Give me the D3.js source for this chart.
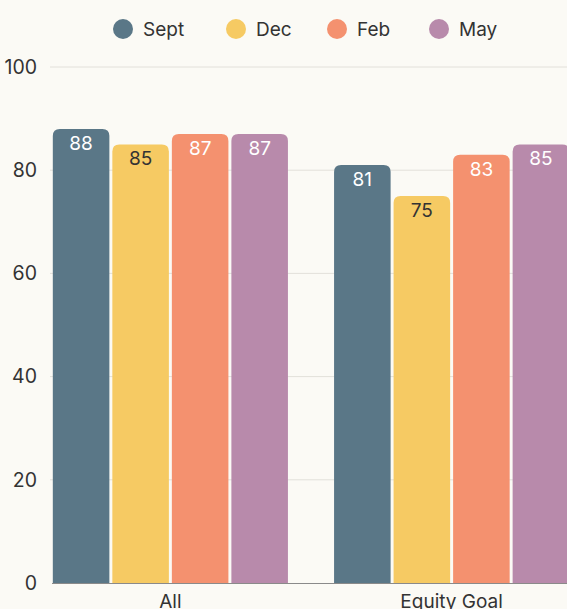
<!DOCTYPE html>
<html>
<head>
<meta charset="utf-8">
<script src="https://cdn.jsdelivr.net/npm/d3@7"></script>
<style>
  html, body { margin: 0; padding: 0; background: #fbfaf5; overflow: hidden; }
  text { font-family: "Inter", "Noto Sans", sans-serif; }
</style>
</head>
<body>
<div class="chart-container"></div>
<script>
const categories = ['All', 'Equity Goal'];
const seriesNames = ['Sept', 'Dec', 'Feb', 'May'];
const sept = [88, 81];
const dec = [85, 75];
const feb = [87, 83];
const may = [87, 85];
const yTicks = [0, 20, 40, 60, 80, 100];

const colors = { Sept: '#5a7787', Dec: '#f6ca63', Feb: '#f4916f', May: '#b88aab' };
const labelColors = { Sept: '#ffffff', Dec: '#333333', Feb: '#ffffff', May: '#ffffff' };

const seriesValues = { Sept: sept, Dec: dec, Feb: feb, May: may };
const data = categories.map((c, i) => ({
  category: c,
  values: seriesNames.map(s => ({ key: s, value: seriesValues[s][i] }))
}));

const width = 567, height = 609;
const margin = { top: 67, left: 50, bottom: 26 };
const plotBottom = height - margin.bottom;

const svg = d3.select('.chart-container')
  .append('svg')
  .attr('width', width)
  .attr('height', height);

svg.append('rect').attr('width', width).attr('height', height).attr('fill', '#fbfaf5');

const y = d3.scaleLinear().domain([0, 100]).range([plotBottom, margin.top]);

const x0 = d3.scaleBand()
  .domain(categories)
  .range([margin.left, margin.left + 522])
  .paddingInner(0.164)
  .paddingOuter(0.01);

const x1 = d3.scaleBand()
  .domain(seriesNames)
  .range([0, x0.bandwidth()])
  .paddingInner(0.05);

// gridlines
svg.append('g')
  .selectAll('line')
  .data(yTicks.filter(t => t > 0))
  .join('line')
  .attr('x1', margin.left)
  .attr('x2', width)
  .attr('y1', d => y(d))
  .attr('y2', d => y(d))
  .attr('stroke', '#e2e0da')
  .attr('stroke-width', 1);

// y tick labels
svg.append('g')
  .selectAll('text')
  .data(yTicks)
  .join('text')
  .attr('x', 37)
  .attr('y', d => y(d))
  .attr('dy', '0.35em')
  .attr('text-anchor', 'end')
  .attr('font-size', 19.5)
  .attr('fill', '#333')
  .text(d => d);

// rounded-top bar path
function topRounded(xp, yp, w, h, r) {
  return `M${xp},${yp + h}V${yp + r}Q${xp},${yp} ${xp + r},${yp}H${xp + w - r}Q${xp + w},${yp} ${xp + w},${yp + r}V${yp + h}Z`;
}

const groups = svg.append('g')
  .selectAll('g')
  .data(data)
  .join('g')
  .attr('transform', d => `translate(${x0(d.category)},0)`);

groups.selectAll('path')
  .data(d => d.values)
  .join('path')
  .attr('fill', d => colors[d.key])
  .attr('d', d => topRounded(x1(d.key), y(d.value), x1.bandwidth(), plotBottom - y(d.value), 7));

groups.selectAll('text')
  .data(d => d.values)
  .join('text')
  .attr('x', d => x1(d.key) + x1.bandwidth() / 2)
  .attr('y', d => y(d.value) + 21)
  .attr('text-anchor', 'middle')
  .attr('font-size', 19)
  .attr('fill', d => labelColors[d.key])
  .text(d => d.value);

// baseline
svg.append('line')
  .attr('x1', margin.left + 2)
  .attr('x2', width)
  .attr('y1', plotBottom + 0.5)
  .attr('y2', plotBottom + 0.5)
  .attr('stroke', '#8a8a8a')
  .attr('stroke-width', 1);

// category labels
svg.append('g')
  .selectAll('text')
  .data(categories)
  .join('text')
  .attr('x', d => x0(d) + x0.bandwidth() / 2)
  .attr('y', plotBottom + 25)
  .attr('text-anchor', 'middle')
  .attr('font-size', 19)
  .attr('fill', '#333')
  .text(d => d);

// legend
const legendX = [123, 236, 337, 439];
const legend = svg.append('g')
  .selectAll('g')
  .data(seriesNames)
  .join('g')
  .attr('transform', (d, i) => `translate(${legendX[i]},29)`);

legend.append('circle')
  .attr('r', 10)
  .attr('fill', d => colors[d]);

legend.append('text')
  .attr('x', 20)
  .attr('dy', '0.35em')
  .attr('font-size', 19)
  .attr('fill', '#333')
  .text(d => d);
</script>
</body>
</html>
